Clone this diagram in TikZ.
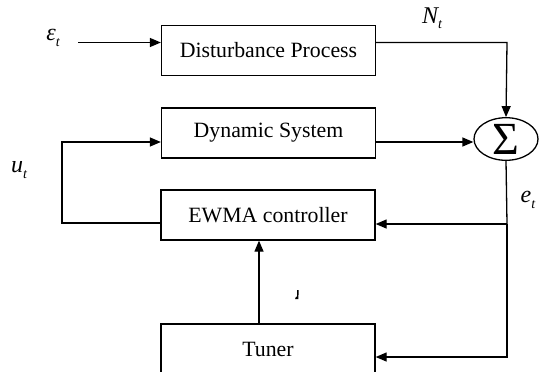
\documentclass[tikz,border=0pt]{standalone}
\usepackage{fontspec}
\setmainfont{Liberation Serif}
\usetikzlibrary{arrows.meta,shapes.geometric}
\begin{document}
\begin{tikzpicture}[x=0.5pt,y=-0.5pt,
  blk/.style={draw,line width=0.65pt,rectangle,minimum width=107pt,minimum height=25pt,inner sep=0pt,font=\fontsize{10.9}{12}\selectfont},
  wire/.style={line width=0.65pt},
  arr/.style={wire,-{Triangle[length=5.5pt,width=4.5pt]}},
  lbl/.style={inner sep=0pt,font=\fontsize{12}{12}\selectfont\itshape}]
\useasboundingbox (0,0) rectangle (539,371);
\clip (0,0) rectangle (539,371);
\node[blk] (dist) at (268.5,50.5) {Disturbance Process};
\node[blk] (dyn) at (268.5,133) {Dynamic System};
\node[blk] (ewma) at (268,215) {EWMA controller};
\node[blk] (tuner) at (268,349) {Tuner};
\node[draw,line width=0.65pt,ellipse,minimum width=32pt,minimum height=19pt,inner sep=0pt,font=\fontsize{23}{23}\selectfont] (sum) at (506,139) {Σ};
\node[lbl] (eps) at (53,38) {ε\raisebox{-0.6ex}{\fontsize{7}{7}\selectfont t}};
\node[lbl] (N) at (432,18) {N\raisebox{-0.5ex}{\fontsize{7}{7}\selectfont t}};
\node[lbl] (u) at (19,170) {u\raisebox{-0.5ex}{\fontsize{7}{7}\selectfont t}};
\node[lbl] (e) at (528,200) {e\raisebox{-0.5ex}{\fontsize{7}{7}\selectfont t}};
\coordinate (epsstart) at (78,42.5);
\coordinate (ncorner) at (507,42.5);
\coordinate (split) at (507,224);
\coordinate (ecorner) at (507,357);
\coordinate (ucorner1) at (62,223);
\coordinate (ucorner2) at (62,142);
% eps -> disturbance
\draw[arr] (epsstart) -- (dist.west |- epsstart);
% disturbance -> sum
\draw[arr] (dist.east |- ncorner) -- (ncorner) -- (sum.north);
% dynamic -> sum
\draw[arr] (dyn.east |- ucorner2) -- (sum.west |- ucorner2);
% sum -> controller, tuner
\draw[wire] (sum.south) -- (split);
\draw[arr] (split) -- (ewma.east |- split);
\draw[arr] (split) -- (ecorner) -- (tuner.east |- ecorner);
% controller -> dynamic
\draw[arr] (ewma.west |- ucorner1) -- (ucorner1) -- (ucorner2) -- (dyn.west |- ucorner2);
% tuner -> controller
\draw[arr] (tuner.north -| 259,0) -- (ewma.south -| 259,0);
% small mark
\fill (297,290) -- (298.6,290) -- (298.4,299) -- (295,299) -- (296.2,296.5) -- (297,297) -- cycle;
\end{tikzpicture}
\end{document}
